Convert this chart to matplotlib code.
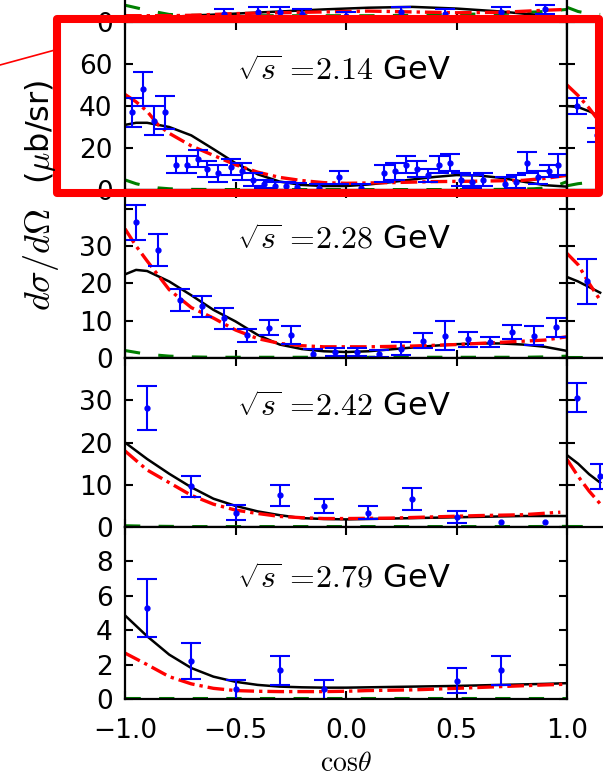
import numpy as np
import matplotlib
matplotlib.use("Agg")
from matplotlib import pyplot as plt
from matplotlib.patches import Rectangle
from matplotlib.lines import Line2D

plt.rcParams["mathtext.fontset"] = "cm"
plt.rcParams["font.family"] = ["DejaVu Sans"]

W, H = 603, 777

# ---- data ----
energies = ["2.14", "2.28", "2.42", "2.79"]
ymax = [80, 45, 40, 10]
ystep = [20, 10, 10, 2]

# sqrt(s) = 2.14 GeV
x214 = [-0.97, -0.92, -0.87, -0.82, -0.77, -0.72, -0.67, -0.63, -0.58, -0.52, -0.47, -0.42,
        -0.37, -0.32, -0.27, -0.22, -0.12, -0.03, 0.07, 0.17, 0.22, 0.27, 0.32, 0.37, 0.42,
        0.47, 0.52, 0.57, 0.62, 0.72, 0.77, 0.82, 0.87, 0.92, 0.96]
y214 = [37, 48, 33, 37, 12, 12, 15, 10, 8, 11, 9, 5, 3, 2, 2, 1.5, 1, 6, 1, 8, 9, 12, 10,
        7, 12, 13, 5, 4, 5, 3, 4, 13, 6, 9, 12]
e214 = [7, 8, 7, 8, 4, 4, 4, 4, 4, 4, 4, 3, 2, 2, 2, 2, 2, 3, 2, 4, 4, 4, 4, 3, 4, 4, 3,
        3, 3, 3, 3, 5, 3, 3, 5]
cx214 = [-1, -0.95, -0.9, -0.8, -0.7, -0.6, -0.5, -0.4, -0.3, -0.2, -0.1, 0, 0.1, 0.2,
         0.3, 0.4, 0.5, 0.6, 0.7, 0.8, 0.9, 1.0]
black214 = [31, 32, 32, 30, 26, 19.5, 12.8, 7.5, 4, 2.4, 1.9, 1.9, 2.6, 3.7, 5, 6.2, 7.1,
            6.9, 5.8, 4, 2.3, 1.6]
rx214 = [-1, -0.95, -0.9, -0.85, -0.8, -0.7, -0.6, -0.5, -0.4, -0.3, -0.2, -0.1, 0, 0.2,
         0.4, 0.6, 0.8, 0.9, 1.0]
red214 = [45.5, 42, 37.5, 31, 27, 21, 16.5, 12, 8.5, 6, 4.5, 3.5, 3.2, 3.5, 4, 4.2, 4.6,
          5.5, 7]
gx214 = [-1, -0.95, -0.9, -0.85, -0.8, -0.7, -0.5, -0.3, 0, 0.3, 0.5, 0.7, 0.85, 0.9,
         0.95, 1.0]
green214 = [4.8, 3, 1.8, 1, 0.6, 0.3, 0.2, 0.2, 0.2, 0.2, 0.2, 0.3, 0.6, 1.0, 2, 4]

# sqrt(s) = 2.28 GeV
x228 = [-0.95, -0.85, -0.75, -0.65, -0.55, -0.45, -0.35, -0.25, -0.15, -0.05, 0.05, 0.15,
        0.25, 0.35, 0.45, 0.55, 0.65, 0.75, 0.85, 0.95]
y228 = [36.4, 29, 15.6, 13.8, 10.7, 6.1, 8.1, 6.1, 1.2, 1.6, 1.6, 1.2, 2.5, 4.6, 6, 5,
        4.3, 7, 6, 8.2]
e228 = [4.7, 4.3, 2.9, 2.9, 2.8, 1.8, 2, 2.4, 1.1, 1, 1, 1, 1.8, 2, 3.8, 2, 1.4, 1.9,
        2.5, 2.5]
cx228 = [-1, -0.95, -0.9, -0.8, -0.7, -0.6, -0.5, -0.4, -0.3, -0.2, -0.1, 0, 0.1, 0.2,
         0.3, 0.4, 0.5, 0.6, 0.7, 0.8, 0.9, 1.0]
black228 = [22.4, 23.6, 23.3, 20.5, 16.8, 12.9, 9.8, 6.2, 3.6, 2.4, 1.8, 1.6, 1.8, 2.3,
            2.8, 3.3, 3.7, 3.9, 3.9, 3.6, 3, 1.9]
red228 = [34.6, 30, 26, 18.3, 13.5, 10.7, 7.5, 5.2, 3.9, 3.3, 3, 3, 3, 3.1, 3.2, 3.4,
          3.6, 3.9, 4.2, 4.5, 4.8, 5.7]
green228 = [2, 1.5, 1, 0.5, 0.3, 0.2, 0.2, 0.2, 0.2, 0.2, 0.2, 0.2, 0.2, 0.2, 0.2, 0.2,
            0.2, 0.2, 0.2, 0.2, 0.3, 0.5]

# sqrt(s) = 2.42 GeV
x242 = [-0.9, -0.7, -0.5, -0.3, -0.1, 0.1, 0.3, 0.5, 0.7, 0.9]
y242 = [28.1, 9.6, 3.4, 7.5, 4.9, 3.4, 6.7, 2.4, 1.3, 1.3]
e242 = [5.2, 2.4, 1.7, 2.5, 1.7, 1.5, 2.6, 1.5, np.nan, np.nan]
cx242 = [-1, -0.9, -0.8, -0.7, -0.6, -0.5, -0.4, -0.3, -0.2, -0.1, 0, 0.2, 0.4, 0.6,
         0.8, 1.0]
black242 = [20, 16.1, 12.6, 9.4, 6.7, 5, 3.7, 2.8, 2.1, 1.9, 1.8, 2, 2.2, 2.4, 2.6, 2.6]
rx242 = [-1, -0.9, -0.8, -0.7, -0.6, -0.5, -0.4, -0.3, -0.2, -0.1, 0, 0.2, 0.4, 0.6,
         0.8, 0.97]
red242 = [18, 13.5, 10.5, 7.5, 5.4, 4, 3.2, 2.5, 2.2, 2, 2, 2.1, 2.4, 2.7, 2.9, 3.5]
green242 = [0.3, 0.2, 0.15, 0.1, 0.1, 0.1, 0.1, 0.1, 0.1, 0.1, 0.1, 0.1, 0.1, 0.1, 0.1,
            0.15]

# sqrt(s) = 2.79 GeV
x279 = [-0.9, -0.7, -0.5, -0.3, -0.1, 0.5, 0.7]
y279 = [5.3, 2.2, 0.57, 1.66, 0.57, 1.07, 1.66]
e279 = [1.7, 1.03, 0.55, 0.85, 0.55, 0.75, 0.85]
cx279 = [-1, -0.9, -0.8, -0.7, -0.6, -0.5, -0.4, -0.3, -0.2, -0.1, 0, 0.1, 0.3, 0.5,
         0.7, 0.9, 1.0]
black279 = [4.86, 3.65, 2.58, 1.8, 1.3, 1.0, 0.82, 0.72, 0.68, 0.66, 0.66, 0.68, 0.72,
            0.76, 0.82, 0.88, 0.92]
red279 = [2.67, 2.0, 1.3, 0.88, 0.62, 0.49, 0.45, 0.43, 0.43, 0.43, 0.45, 0.49, 0.53,
          0.62, 0.72, 0.82, 0.86]
green279 = [0.06] * 17

# panel above (only its lower edge is in the crop)
x_top = [-0.55, -0.4, -0.3, -0.2, 0.0, 0.25, 0.45, 0.7, 0.9]
y_top = [2, 2.5, 2.5, 2, 1.5, 2.5, 2, 2.5, 3]
e_top = [1, 1, 1, 1, 1, 1, 1, 1, 1]
cx_top = [-1, -0.9, -0.8, -0.7, -0.5, -0.3, -0.1, 0.1, 0.3, 0.5, 0.7, 0.9, 1.0]
black_top = [1, 1, 1.2, 1.5, 2, 2.5, 3, 3.4, 3.6, 3.2, 2.5, 1.5, 1]
red_top = [1.5, 1.5, 1.5, 1.6, 2, 2.2, 2.4, 2.6, 2.4, 2.2, 2.3, 2.8, 3]
green_top = [4, 2.8, 1.8, 1.6, 1.5, 1.5, 1.5, 1.5, 1.6, 1.8, 2, 2.5, 3]

# right-hand column (cut off by the crop)
rc_x = [[-0.955, -0.864], [-0.91], [-0.955, -0.85]]
rc_y = [[40, 26], [20.5], [30.6, 12]]
rc_e = [[4, 3.3], [6], [3.4, 3]]
rc_cx = [-1, -0.95, -0.9, -0.85]
rc_black = [[40, 39.5, 37.5, 35], [21.7, 20.5, 19, 17.5], [17, 15, 12.5, 10.5]]
rc_red = [[50, 45, 39, 32], [28, 25, 20, 15.5], [16, 12, 8.5, 5.5]]
rc_green = [[2, 3, 3.6, 4], [0.3, 0.3, 0.3, 0.3], [0.2, 0.2, 0.2, 0.2]]
rc_green_top = [3.5, 2.5, 2, 1.8]

panels = [
    (x214, y214, e214, cx214, black214, rx214, red214, gx214, green214),
    (x228, y228, e228, cx228, black228, cx228, red228, cx228, green228),
    (x242, y242, e242, cx242, black242, rx242, red242, cx242, green242),
    (x279, y279, e279, cx279, black279, cx279, red279, cx279, green279),
]

# row edges in pixels (top of crop = 0)
row_top = [-146, 22, 190, 358, 527]
row_bot = [22, 190, 358, 527, 699]
left_px, right_px = 125, 567


def style_axes(ax, top, step, labels=True, xlabels=False, nlab=None):
    ax.set_xlim(-1, 1)
    ax.set_ylim(0, top)
    ax.set_xticks([-1, -0.5, 0, 0.5, 1])
    ticks = np.arange(0, top + 0.01, step)
    n = len(ticks) - 1 if nlab is None else nlab
    ax.set_yticks(ticks, [f"{t:g}" if k < n else "" for k, t in enumerate(ticks)])
    ax.tick_params(direction="in", top=True, right=True, length=6, width=1.5,
                   labelsize=19, pad=9, labelleft=labels, labelbottom=xlabels)
    ax.tick_params(axis="x", pad=14)
    for sp in ax.spines.values():
        sp.set_linewidth(1.6)


def draw(ax, xs, ys, es, cx, cb, rx, cr, gx, cg):
    ax.plot(gx, cg, color="green", lw=2.2, ls=(0, (5, 6)))
    ax.plot(cx, cb, color="black", lw=1.8)
    ax.plot(rx, cr, color="red", lw=2.4, ls=(0, (5, 1.5, 1, 1.5)))
    ax.errorbar(xs, ys, yerr=es, fmt="o", color="blue", ms=3.5, lw=1.5,
                capsize=7, capthick=1.5)


fig = plt.figure(figsize=(W / 100, H / 100), dpi=100)


def add_ax(x0, r):
    return fig.add_axes([x0 / W, 1 - row_bot[r] / H, (right_px - left_px) / W,
                         (row_bot[r] - row_top[r]) / H])


# panel above
ax0 = add_ax(left_px, 0)
style_axes(ax0, 40, 10, nlab=1)
draw(ax0, x_top, y_top, e_top, cx_top, black_top, cx_top, red_top, cx_top, green_top)

for i, p in enumerate(panels):
    ax = add_ax(left_px, i + 1)
    style_axes(ax, ymax[i], ystep[i], xlabels=(i == 3))
    draw(ax, *p)
    ax.text(0.253, 0.70, r"$\sqrt{s}\,=\!%s$ GeV" % energies[i], transform=ax.transAxes,
            fontsize=23, ha="left", va="center")

# x label
fig.text(346 / W, 1 - 763 / H, r"$\mathrm{cos}\theta$", fontsize=20,
         ha="center", va="center")

# right-hand column
axr0 = add_ax(right_px, 0)
style_axes(axr0, 40, 10, labels=False)
axr0.plot(rc_cx, rc_green_top, color="green", lw=2.2, ls=(0, (5, 6)))
for i in range(3):
    axr = add_ax(right_px, i + 1)
    style_axes(axr, ymax[i], ystep[i], labels=False)
    draw(axr, rc_x[i], rc_y[i], rc_e[i], rc_cx, rc_black[i], rc_cx, rc_red[i],
         rc_cx, rc_green[i])

# y label in two parts
fig.text(40 / W, 1 - 132 / H, r"($\mu$b/sr)", rotation=90,
         fontsize=23, ha="center", va="center")
fig.text(41 / W, 1 - 260 / H, r"$d\sigma/d\Omega$", rotation=90,
         fontsize=26, ha="center", va="center")

# red highlight box and pointer line
box = Rectangle((57 / W, 1 - 193 / H), (599 - 57) / W, (193 - 19) / H, fill=False,
                ec="red", lw=5.8, joinstyle="round", transform=fig.transFigure)
fig.add_artist(box)
fig.add_artist(Line2D([0, 55 / W], [1 - 65 / H, 1 - 50 / H], color="red", lw=1.2,
                      transform=fig.transFigure))

fig.savefig("out.png", dpi=100)
